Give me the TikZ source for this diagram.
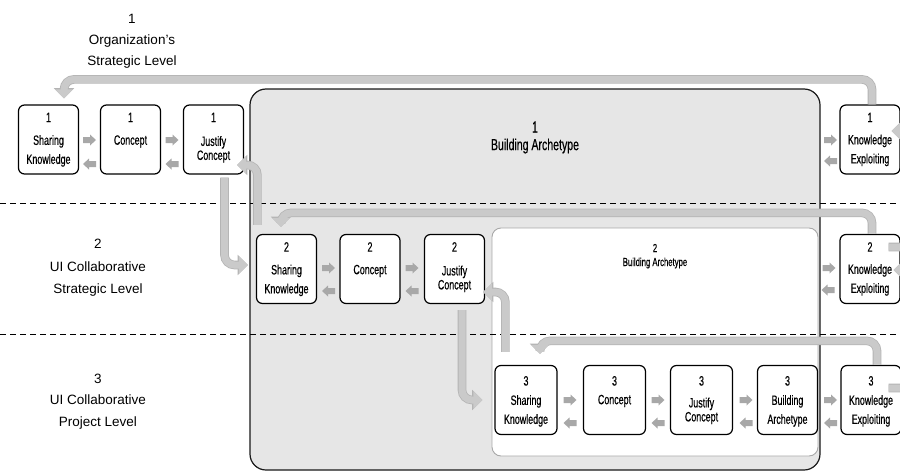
\documentclass[tikz,border=0pt]{standalone}
\usepackage{fontspec}
\setmainfont{Liberation Sans}
\newfontfamily\agency[FakeStretch=0.66,FakeBold=0.4]{Liberation Sans}
\usetikzlibrary{arrows.meta}
\definecolor{pipegray}{HTML}{CACACA}
\definecolor{pipeedge}{HTML}{B4B4B4}
\definecolor{arrgray}{HTML}{A8A8A8}
\definecolor{bigfill}{HTML}{E6E6E6}
\definecolor{innerline}{HTML}{A8A8A8}
\begin{document}
\begin{tikzpicture}[x=1pt,y=-1pt,
  stagebox/.style={draw=black, line width=1.2pt, rounded corners=6pt, fill=white,
    minimum width=60pt, minimum height=69pt, inner sep=0pt},
  numtxt/.style={font=\agency\fontsize{13.5}{15}\selectfont, inner sep=0pt},
  boxtxt/.style={font=\agency\fontsize{13.5}{19}\selectfont, align=center, inner sep=0pt},
  boxtxtt/.style={font=\agency\fontsize{13.5}{14}\selectfont, align=center, inner sep=0pt},
  lvl/.style={font=\fontsize{13.5}{21}\selectfont, align=center, inner sep=0pt},
  blockarr/.pic={\fill[arrgray] (-6.5,-3) -- (0.5,-3) -- (0.5,-5.5) -- (6.5,0)
      -- (0.5,5.5) -- (0.5,3) -- (-6.5,3) -- cycle;},
  pipe/.style={draw=pipegray, line width=7pt, rounded corners=10pt,
    -{Triangle[width=17pt,length=9pt]},
    preaction={draw=pipeedge, line width=8.6pt, -{Triangle[width=19.5pt,length=10.2pt]}}},
  dashline/.style={draw=black, line width=1pt, dash pattern=on 6pt off 4pt}
]
\useasboundingbox (0,0) rectangle (900,471);
\clip (0,0) rectangle (900,471);
\fill[white] (0,0) rectangle (900,471);

% large areas
\node[draw=black!90, fill=bigfill, line width=1.2pt, rounded corners=16pt,
  minimum width=570pt, minimum height=381pt, inner sep=0pt] (ba1) at (535,279.5) {};
\node[draw=innerline, fill=white, line width=0.9pt, rounded corners=9pt,
  minimum width=326pt, minimum height=228pt, inner sep=0pt] (ba2) at (655,342) {};
\node[font=\agency\fontsize{16}{18}\selectfont, inner sep=0pt] (ba1n) at (535,127) {1};
\node[font=\agency\fontsize{16}{18}\selectfont, inner sep=0pt] (ba1t) at (535,146) {Building Archetype};
\node[font=\agency\fontsize{11.7}{13}\selectfont, inner sep=0pt] (ba2n) at (655,248) {2};
\node[font=\agency\fontsize{11.7}{13}\selectfont, inner sep=0pt] (ba2t) at (655,263) {Building Archetype};

% level separators
\draw[dashline] (0,203) -- (900,203);
\draw[dashline] (0,334) -- (900,334);

% level labels
\node[lvl] (lv1) at (132,41) {1\\Organization's\\Strategic Level};
\node[lvl, font=\fontsize{13.5}{22.5}\selectfont] (lv2) at (98,268) {2\\UI Collaborative\\Strategic Level};
\node[lvl, font=\fontsize{13.5}{21.5}\selectfont] (lv3) at (98,401.5) {3\\UI Collaborative\\Project Level};

% level 1 boxes
\node[stagebox] (s1) at (48.5,139.5) {};
\node[stagebox] (c1) at (130.5,139.5) {};
\node[stagebox] (j1) at (213.5,139.5) {};
\node[stagebox] (k1) at (870,139.5) {};
% level 2 boxes
\node[stagebox] (s2) at (286.5,269) {};
\node[stagebox] (c2) at (370,269) {};
\node[stagebox] (j2) at (454.5,269) {};
\node[stagebox] (k2) at (870,269) {};
% level 3 boxes
\node[stagebox, minimum width=62pt] (s3) at (526,400) {};
\node[stagebox, minimum width=62pt] (c3) at (614.5,400) {};
\node[stagebox, minimum width=62pt] (j3) at (701.5,400) {};
\node[stagebox] (b3) at (787.5,400) {};
\node[stagebox] (k3) at (871,400) {};

% box texts
\node[numtxt] (s1n) at ([yshift=-13pt]s1.north) {1};
\node[boxtxt] (s1t) at ([yshift=-46.5pt]s1.north) {Sharing\\Knowledge};
\node[numtxt] (c1n) at ([yshift=-13pt]c1.north) {1};
\node[boxtxt] (c1t) at ([yshift=-37pt]c1.north) {Concept};
\node[numtxt] (j1n) at ([yshift=-13pt]j1.north) {1};
\node[boxtxtt] (j1t) at ([yshift=-45pt]j1.north) {Justify\\Concept};
\node[numtxt] (k1n) at ([yshift=-13pt]k1.north) {1};
\node[boxtxt] (k1t) at ([yshift=-46pt]k1.north) {Knowledge\\Exploiting};

\node[numtxt] (s2n) at ([yshift=-13pt]s2.north) {2};
\node[boxtxt] (s2t) at ([yshift=-46.5pt]s2.north) {Sharing\\Knowledge};
\node[numtxt] (c2n) at ([yshift=-13pt]c2.north) {2};
\node[boxtxt] (c2t) at ([yshift=-37pt]c2.north) {Concept};
\node[numtxt] (j2n) at ([yshift=-13pt]j2.north) {2};
\node[boxtxtt] (j2t) at ([yshift=-45pt]j2.north) {Justify\\Concept};
\node[numtxt] (k2n) at ([yshift=-13pt]k2.north) {2};
\node[boxtxt] (k2t) at ([yshift=-46pt]k2.north) {Knowledge\\Exploiting};

\node[numtxt] (s3n) at ([yshift=-16pt]s3.north) {3};
\node[boxtxt] (s3t) at ([yshift=-46pt]s3.north) {Sharing\\Knowledge};
\node[numtxt] (c3n) at ([yshift=-16pt]c3.north) {3};
\node[boxtxt] (c3t) at ([yshift=-36pt]c3.north) {Concept};
\node[numtxt] (j3n) at ([yshift=-16pt]j3.north) {3};
\node[boxtxtt] (j3t) at ([yshift=-46pt]j3.north) {Justify\\Concept};
\node[numtxt] (b3n) at ([yshift=-16pt]b3.north) {3};
\node[boxtxt] (b3t) at ([yshift=-46pt]b3.north) {Building\\Archetype};
\node[numtxt] (k3n) at ([yshift=-16pt]k3.north) {3};
\node[boxtxt] (k3t) at ([yshift=-46pt]k3.north) {Knowledge\\Exploiting};

% small block arrows, level 1
\pic at (89.5,140) {blockarr};
\pic[rotate=180] at (89.5,164) {blockarr};
\pic at (172,140) {blockarr};
\pic[rotate=180] at (172,164) {blockarr};
\pic at (830.5,140) {blockarr};
\pic[rotate=180] at (830.5,161) {blockarr};
% level 2
\pic at (328.5,268) {blockarr};
\pic[rotate=180] at (328.5,291) {blockarr};
\pic at (412,268) {blockarr};
\pic[rotate=180] at (412,291) {blockarr};
\pic at (829,268) {blockarr};
\pic[rotate=180] at (828,290) {blockarr};
% level 3
\pic at (570,400) {blockarr};
\pic[rotate=180] at (570,423) {blockarr};
\pic at (658,400) {blockarr};
\pic[rotate=180] at (658,423) {blockarr};
\pic at (746,400) {blockarr};
\pic[rotate=180] at (746,423) {blockarr};
\pic at (830.5,400) {blockarr};
\pic[rotate=180] at (830.5,423) {blockarr};

% pipes
\draw[pipe] ([xshift=2pt]k1.north) -- ++(0,-25) -| ([xshift=15.5pt,yshift=6pt]s1.north);
\draw[pipe] ([xshift=11pt,yshift=-3pt]j1.south) |- ([xshift=-8pt,yshift=4pt]s2.west);
\draw[pipe] ([xshift=1.5pt,yshift=9pt]s2.north west) |- ([xshift=-7pt,yshift=-25.5pt]j1.east);
\draw[pipe] ([xshift=2pt]k2.north) -- ++(0,-21) -| ([xshift=-5.5pt,yshift=7pt]s2.north);
\draw[pipe] ([xshift=7.5pt,yshift=-6pt]j2.south) |- ([xshift=-12pt]s3.west);
\draw[pipe] ([xshift=11pt,yshift=13pt]s3.north west) |- ([xshift=-2pt,yshift=-23pt]j2.east);
\draw[pipe] ([xshift=6pt]k3.north) -- ++(0,-24) -| ([xshift=14pt,yshift=11pt]s3.north);
\draw[pipe] ([xshift=-12pt,yshift=22pt]k2.east) -- ++(30,0) |- ([xshift=-9pt,yshift=8.5pt]k1.east);
\draw[pipe] ([xshift=-13pt,yshift=12pt]k3.east) -- ++(30,0) |- ([xshift=-7pt,yshift=-1pt]k2.east);
\end{tikzpicture}
\end{document}
